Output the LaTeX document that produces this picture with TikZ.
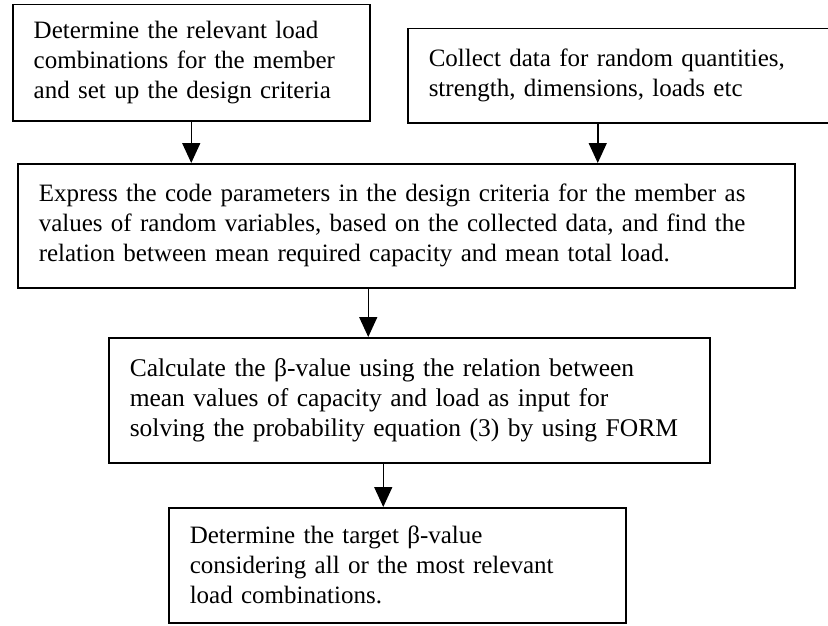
\documentclass[tikz,border=0pt]{standalone}
\usepackage{fontspec}
\setmainfont{Liberation Serif}
\usetikzlibrary{arrows.meta}

\begin{document}
\begin{tikzpicture}[x=1pt,y=-1pt,
            box/.style={draw,line width=1.5pt,anchor=north west,align=left,inner xsep=21pt,inner ysep=0pt,font=\fontsize{25}{30}\selectfont},
            arr/.style={line width=1.5pt,-{Triangle[width=18pt,length=20pt]}}]
            \useasboundingbox (0,0) rectangle (828,626);
            
            \node[box,text width=315pt,minimum height=116pt] (crit) at (12,4)
            {Determine the relevant load\\combinations for the member\\and set up the design criteria};
            \node[box,text width=386pt,minimum height=94pt] (data) at (407,28)
            {Collect data for random quantities,\\strength, dimensions, loads etc};
            \node[box,text width=735pt,minimum height=124pt] (expr) at (17,163)
            {Express the code parameters in the design criteria for the member as\\values of random variables, based on the collected data, and find the\\relation between mean required capacity and mean total load.};
            \node[box,text width=559pt,minimum height=125pt,font=\fontsize{25.5}{30}\selectfont] (calc) at (108,337)
            {Calculate the β-value using the relation between\\mean values of capacity and load as input for\\solving the probability equation (3) by using FORM};
            \node[box,text width=415pt,minimum height=115pt] (target) at (168,507)
            {Determine the target β-value\\considering all or the most relevant\\load combinations.};
            
            \draw[arr] (crit.south) -- (crit.south |- expr.north);
            \draw[arr] ([xshift=-24pt]data.south) -- ([xshift=-24pt]data.south |- expr.north);
            \draw[arr] ([xshift=-38pt]expr.south) -- ([xshift=-38pt]expr.south |- calc.north);
            \draw[arr] ([xshift=-26pt]calc.south) -- ([xshift=-26pt]calc.south |- target.north);
            \end{tikzpicture}
\end{document}
